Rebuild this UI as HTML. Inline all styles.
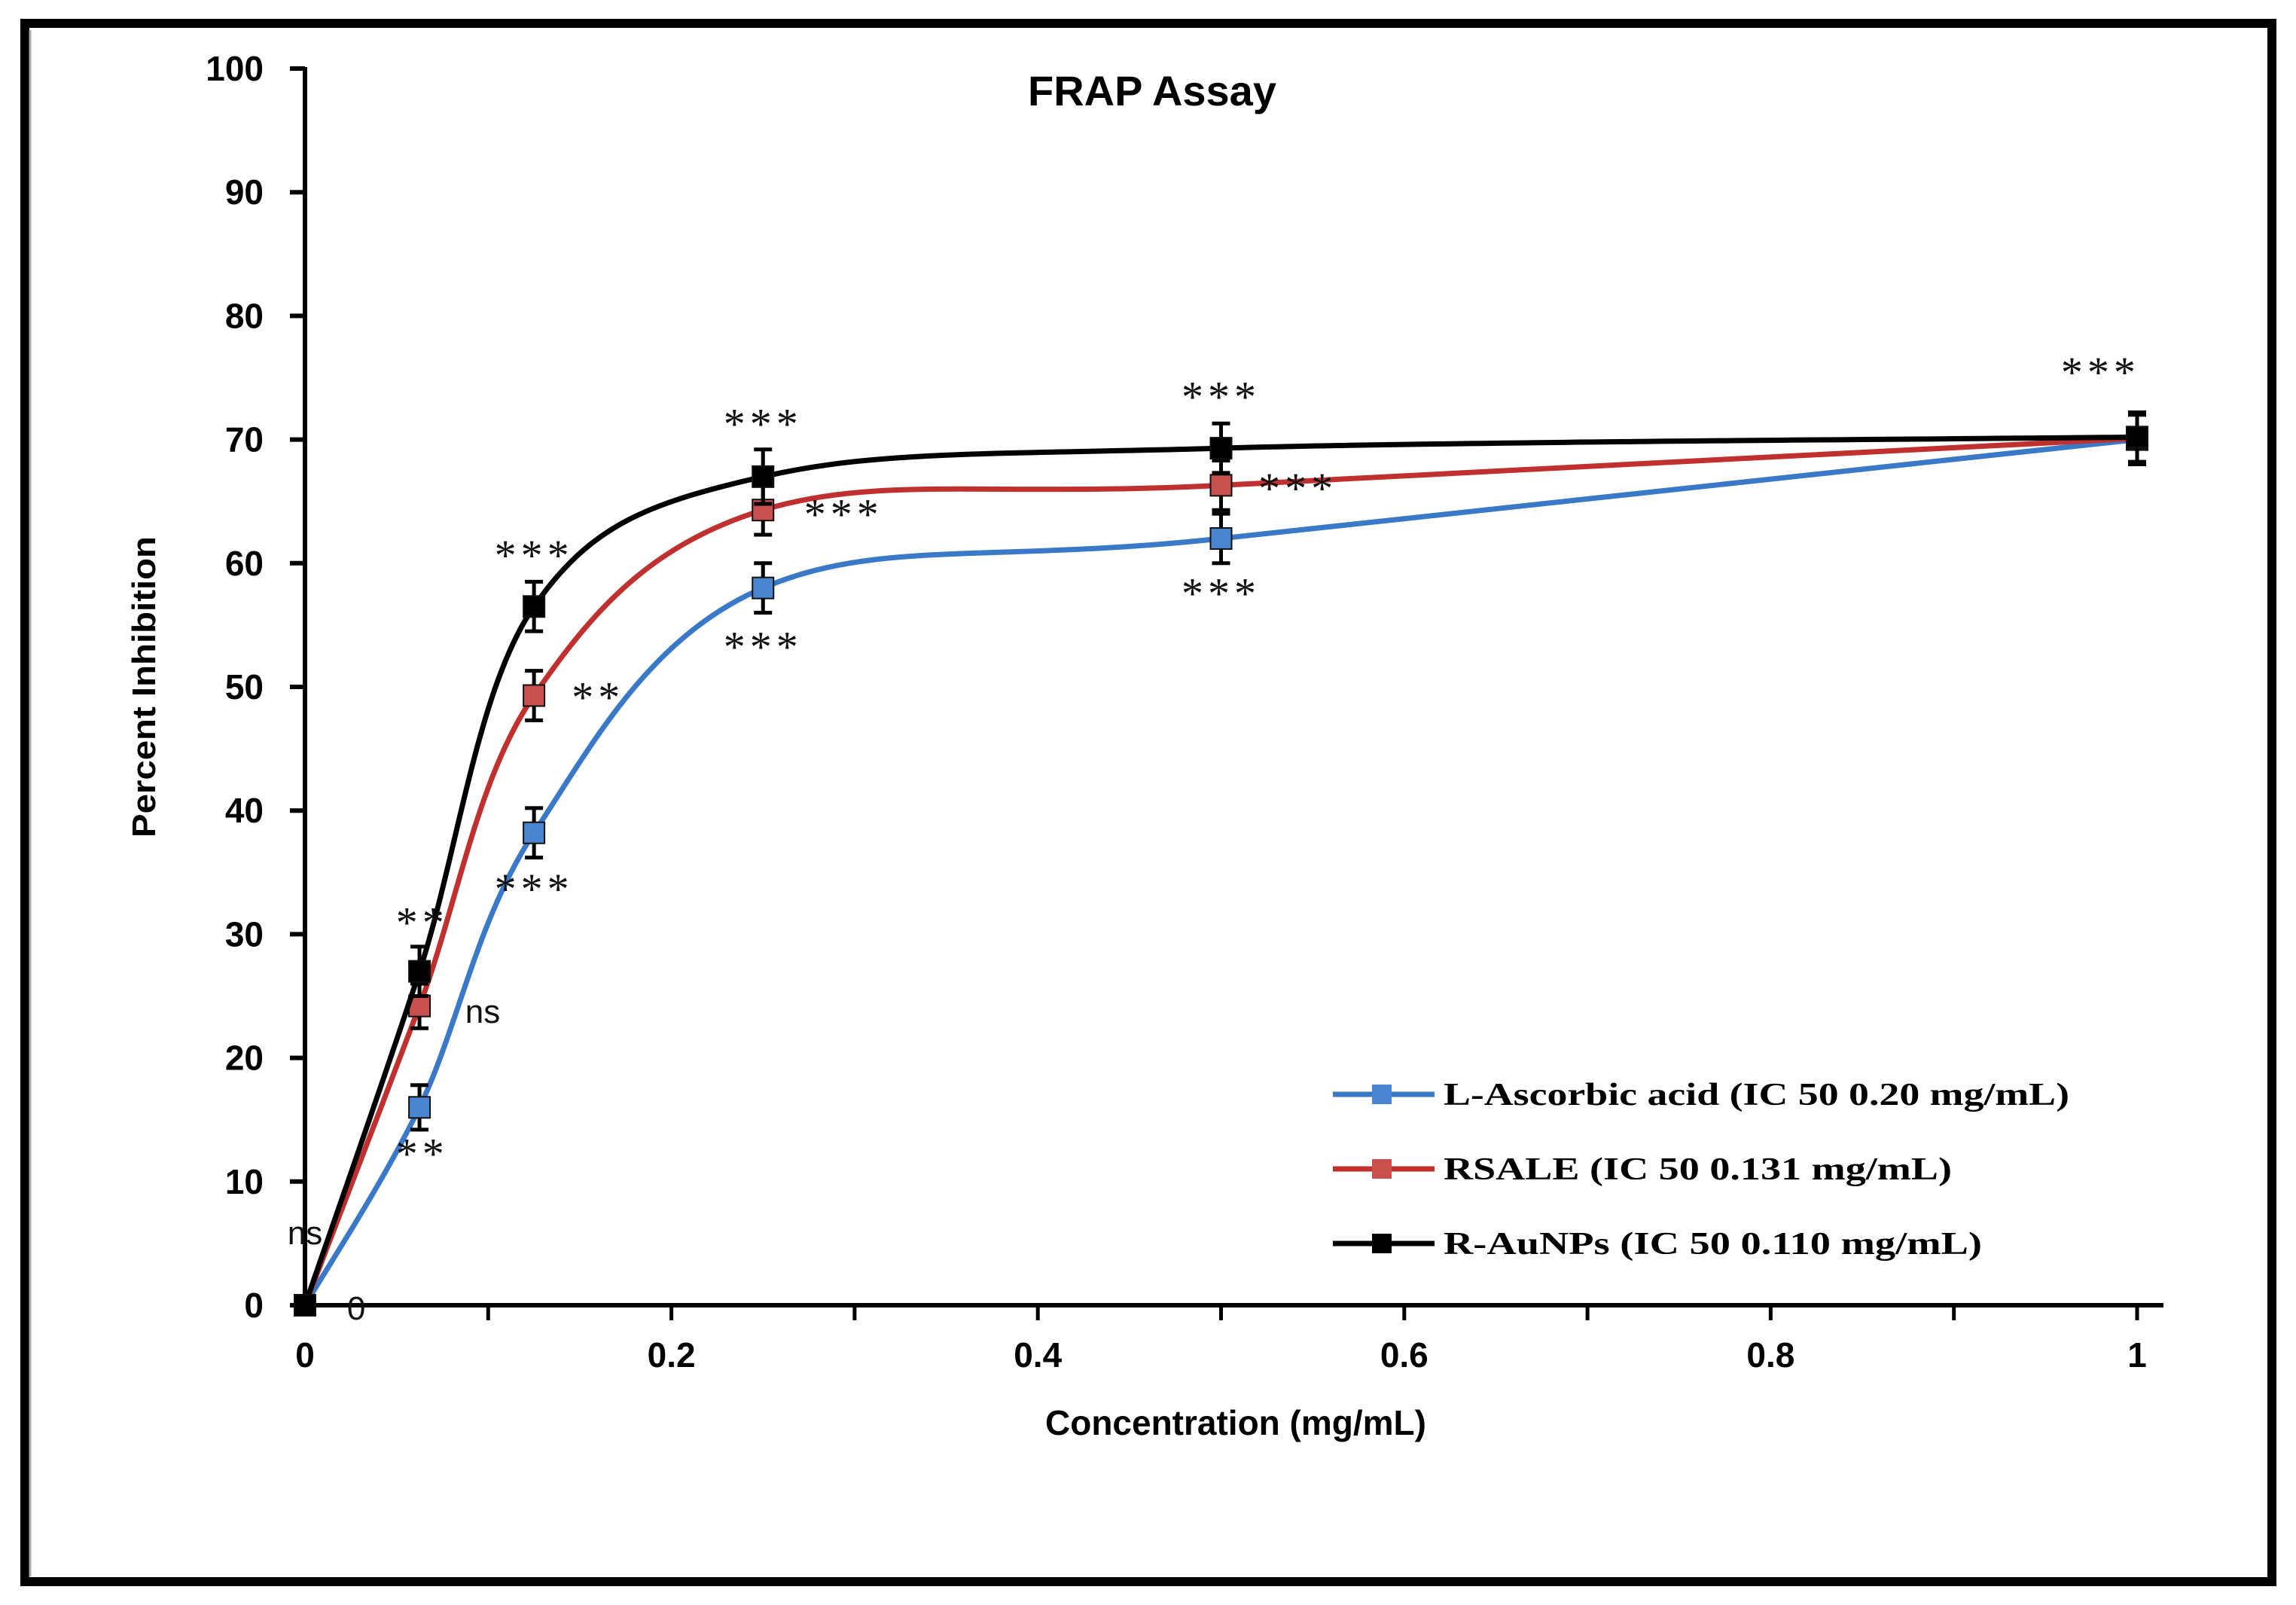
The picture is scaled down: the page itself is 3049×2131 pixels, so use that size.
<!DOCTYPE html>
<html><head><meta charset="utf-8"><style>
html,body{margin:0;padding:0;background:#fff;}
svg{display:block;}
</style></head><body>
<svg id="chart" width="3049" height="2131" viewBox="0 0 3049 2131" xmlns="http://www.w3.org/2000/svg">
<rect x="33" y="31" width="2984" height="2069" fill="#fff" stroke="#000" stroke-width="12"/>
<line x1="40" y1="40" x2="40" y2="2093" stroke="#aaa" stroke-width="3"/>
<text x="1530" y="140" text-anchor="middle" font-family="Liberation Sans, sans-serif" font-weight="bold" font-size="56">FRAP Assay</text>
<text transform="translate(206,912) rotate(-90)" text-anchor="middle" font-family="Liberation Sans, sans-serif" font-weight="bold" font-size="44" textLength="400" lengthAdjust="spacingAndGlyphs">Percent Inhibition</text>
<text x="1641" y="1905" text-anchor="middle" font-family="Liberation Sans, sans-serif" font-weight="bold" font-size="46">Concentration (mg/mL)</text>
<g id="axes"></g>
<g id="series"></g>
<g id="annotations" font-family="Liberation Serif, serif" fill="#111"></g>
<g id="legend"></g>
</svg>
<script>
const xTicks = [0, 0.2, 0.4, 0.6, 0.8, 1];
const xTickLabels = ['0', '0.2', '0.4', '0.6', '0.8', '1'];
const yTicks = [0, 10, 20, 30, 40, 50, 60, 70, 80, 90, 100];
const concentrations = [0, 0.0625, 0.125, 0.25, 0.5, 1];
const ascorbic = [0, 16, 38.2, 58, 62, 70];
const rsale = [0, 24.2, 49.3, 64.3, 66.3, 70.1];
const aunps = [0, 27, 56.5, 67, 69.3, 70.2];
const errAscorbic = [0, 1.8, 2, 2, 2, 2];
const errRsale = [0, 1.8, 2, 2, 2, 2];
const errAunps = [0, 2, 2, 2.2, 2, 2];
const seriesNames = ['L-Ascorbic acid (IC 50  0.20 mg/mL)', 'RSALE (IC 50  0.131 mg/mL)', 'R-AuNPs (IC 50  0.110 mg/mL)'];
const annText = ['ns','0','**','ns','**','***','**','***','***','***','***','***','***','***','***'];
const annX = [0, 0.028, 0.064, 0.097, 0.064, 0.125, 0.16, 0.125, 0.25, 0.294, 0.25, 0.5, 0.542, 0.5, 0.98];
const annY = [5.8, -0.3, 30.3, 23.7, 11.6, 60, 48.5, 33, 70.6, 63.3, 52.6, 72.8, 65.4, 56.9, 74.8];

const NS='http://www.w3.org/2000/svg';
const X0=405, X1=2838, Y0=1733, Y100=91;
const sx=v=>X0+(X1-X0)*v;
const sy=v=>Y0-(Y0-Y100)*v/100;
function mk(tag,attrs,parent){const e=document.createElementNS(NS,tag);for(const k in attrs)e.setAttribute(k,attrs[k]);parent.appendChild(e);return e;}
const axes=document.getElementById('axes');
let yl=mk('line',{x1:X0,y1:Y100-2,x2:X0,y2:Y0,stroke:'#000','stroke-width':6},axes);


let xl=mk('line',{x1:X0-3,y1:Y0,x2:2873,y2:Y0,stroke:'#000','stroke-width':6},axes);


yTicks.forEach(v=>{
  mk('line',{x1:X0-20,y1:sy(v),x2:X0,y2:sy(v),stroke:'#000','stroke-width':6},axes);
  const t=mk('text',{x:X0-55,y:sy(v)+16,'text-anchor':'end','font-family':'Liberation Sans, sans-serif','font-weight':'bold','font-size':46},axes);
  t.textContent=v;
  
  
});
for(let i=1;i<=10;i++){mk('line',{x1:sx(i/10),y1:Y0,x2:sx(i/10),y2:Y0+20,stroke:'#000','stroke-width':5},axes);}
xTicks.forEach((v,i)=>{
  const t=mk('text',{x:sx(v),y:Y0+82,'text-anchor':'middle','font-family':'Liberation Sans, sans-serif','font-weight':'bold','font-size':46},axes);
  t.textContent=xTickLabels[i];
  
  
});
function smoothPath(pts){
  let d=`M${pts[0][0]},${pts[0][1]}`;
  for(let i=0;i<pts.length-1;i++){
    const p0=pts[Math.max(0,i-1)],p1=pts[i],p2=pts[i+1],p3=pts[Math.min(pts.length-1,i+2)];
    const t=1/6;
    const c1=[p1[0]+(p2[0]-p0[0])*t,p1[1]+(p2[1]-p0[1])*t];
    const c2=[p2[0]-(p3[0]-p1[0])*t,p2[1]-(p3[1]-p1[1])*t];
    d+=` C${c1[0]},${c1[1]} ${c2[0]},${c2[1]} ${p2[0]},${p2[1]}`;
  }
  return d;
}
const sg=document.getElementById('series');
const defs=[[ascorbic,errAscorbic,'#3a78c8','#4a86cf','ascorbic'],[rsale,errRsale,'#c0302e','#c8504e','rsale'],[aunps,errAunps,'#000','#000','aunps']];
defs.forEach(([vals,errs,col,mcol,key])=>{
  const g=mk('g',{},sg);
  
  
  const pts=concentrations.map((c,i)=>[sx(c),sy(vals[i])]);
  const p=mk('path',{d:smoothPath(pts),fill:'none',stroke:col,'stroke-width':7},g);
  
  
  concentrations.forEach((c,i)=>{
    if(errs[i]>0){
      const x=sx(c),a=sy(vals[i]+errs[i]),b=sy(vals[i]-errs[i]);
      mk('line',{x1:x,y1:a,x2:x,y2:b,stroke:'#000','stroke-width':5},g);
      mk('line',{x1:x-12,y1:a,x2:x+12,y2:a,stroke:'#000','stroke-width':5},g);
      mk('line',{x1:x-12,y1:b,x2:x+12,y2:b,stroke:'#000','stroke-width':5},g);
    }
    const m=mk('rect',{x:sx(c)-14,y:sy(vals[i])-14,width:28,height:28,fill:mcol,stroke:'#111','stroke-width':2},g);
    
    
  });
});
const ag=document.getElementById('annotations');
annText.forEach((s,i)=>{
  const star=(s.indexOf('*')>=0);
  const t=mk('text',{x:sx(annX[i]),y:sy(annY[i])+(star?9:14),'text-anchor':'middle'},ag);
  t.textContent=s;
  if(star){t.setAttribute('font-size','58');t.setAttribute('letter-spacing','6');}
  else{t.setAttribute('font-family','Liberation Sans, sans-serif');t.setAttribute('font-size','44');}
  
  
});
const lg=document.getElementById('legend');
const lgY=[1453,1552,1651], lgW=[831,675,715];
defs.forEach(([v,e,col,mcol,key],i)=>{
  const g=mk('g',{},lg);
  
  
  mk('line',{x1:1770,y1:lgY[i],x2:1905,y2:lgY[i],stroke:col,'stroke-width':7},g);
  mk('rect',{x:1822,y:lgY[i]-13,width:26,height:26,fill:mcol},g);
  const t=mk('text',{x:1917,y:lgY[i]+14,'font-family':'Liberation Serif, serif','font-weight':'bold','font-size':42,textLength:lgW[i],lengthAdjust:'spacingAndGlyphs'},g);
  t.textContent=seriesNames[i];
});
</script>
</body></html>
